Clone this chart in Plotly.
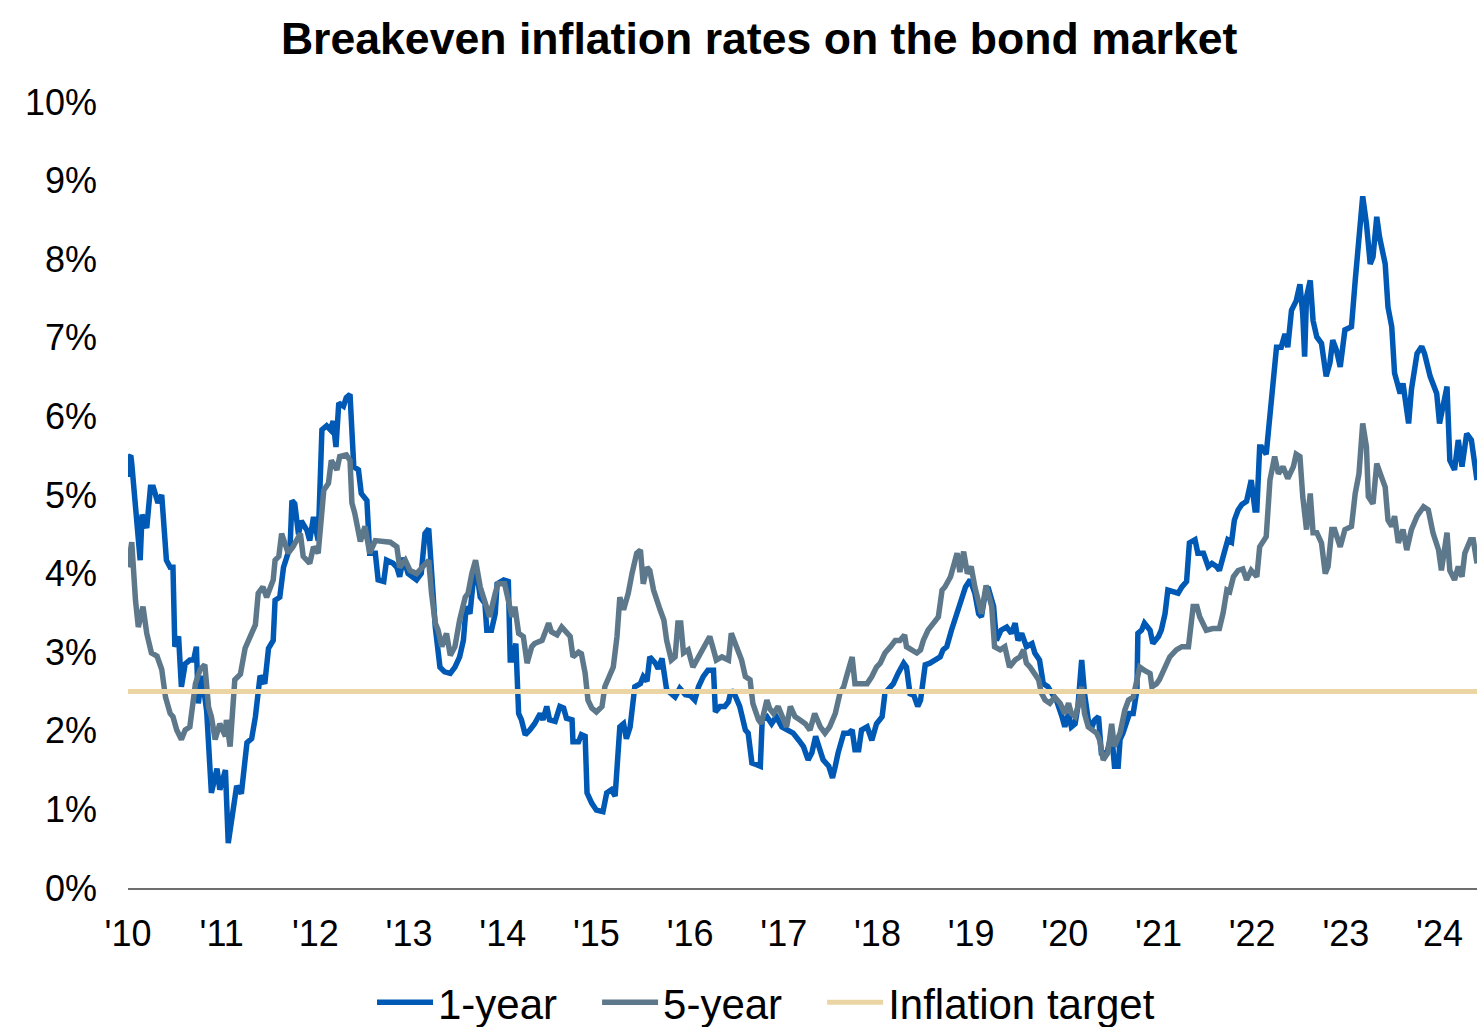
import plotly.graph_objects as go

# Breakeven inflation rates, decimal year vs. percent
one_year = [
    (2010.00, 5.23), (2010.01, 5.48), (2010.03, 5.50), (2010.04, 5.40), (2010.13, 4.17), (2010.15, 4.75),
    (2010.20, 4.58), (2010.24, 5.10), (2010.27, 5.10), (2010.32, 4.90), (2010.36, 5.00), (2010.41, 4.17),
    (2010.45, 4.08), (2010.48, 4.08), (2010.50, 3.07), (2010.54, 3.20), (2010.57, 2.56), (2010.61, 2.85),
    (2010.66, 2.90), (2010.70, 2.90), (2010.73, 3.07), (2010.75, 2.35), (2010.79, 2.70), (2010.84, 2.25),
    (2010.89, 1.21), (2010.95, 1.52), (2010.98, 1.25), (2011.04, 1.50), (2011.07, 0.57), (2011.11, 0.87),
    (2011.16, 1.30), (2011.21, 1.20), (2011.27, 1.85), (2011.32, 1.90), (2011.36, 2.18), (2011.41, 2.70),
    (2011.46, 2.60), (2011.50, 3.05), (2011.55, 3.15), (2011.57, 3.66), (2011.62, 3.70), (2011.66, 4.08),
    (2011.69, 4.20), (2011.73, 4.34), (2011.75, 4.93), (2011.78, 4.89), (2011.82, 4.50), (2011.85, 4.67),
    (2011.91, 4.55), (2011.94, 4.42), (2011.98, 4.72), (2012.03, 4.42), (2012.07, 5.83), (2012.12, 5.88),
    (2012.16, 5.83), (2012.19, 5.94), (2012.22, 5.61), (2012.25, 6.17), (2012.30, 6.13), (2012.33, 6.24),
    (2012.37, 6.28), (2012.41, 5.36), (2012.46, 5.32), (2012.49, 5.02), (2012.55, 4.93), (2012.58, 4.26),
    (2012.64, 4.26), (2012.67, 3.92), (2012.73, 3.90), (2012.76, 4.17), (2012.83, 4.13), (2012.87, 4.08),
    (2012.90, 3.96), (2012.94, 4.20), (2012.99, 4.00), (2013.08, 3.92), (2013.13, 4.00), (2013.17, 4.51),
    (2013.21, 4.57), (2013.24, 3.96), (2013.28, 3.32), (2013.33, 2.81), (2013.38, 2.75), (2013.44, 2.73),
    (2013.49, 2.81), (2013.54, 2.94), (2013.58, 3.15), (2013.61, 3.58), (2013.65, 3.49), (2013.69, 3.96),
    (2013.72, 4.04), (2013.76, 3.70), (2013.81, 3.62), (2013.83, 3.28), (2013.88, 3.28), (2013.92, 3.49),
    (2013.94, 3.87), (2014.01, 3.92), (2014.06, 3.90), (2014.08, 2.90), (2014.11, 2.90), (2014.14, 3.11),
    (2014.17, 2.22), (2014.20, 2.14), (2014.24, 1.95), (2014.29, 2.01), (2014.34, 2.09), (2014.40, 2.22),
    (2014.43, 2.14), (2014.47, 2.31), (2014.50, 2.14), (2014.56, 2.12), (2014.61, 2.31), (2014.65, 2.29),
    (2014.68, 2.16), (2014.74, 2.14), (2014.75, 1.86), (2014.81, 1.86), (2014.84, 1.95), (2014.88, 1.93),
    (2014.90, 1.21), (2014.95, 1.08), (2015.00, 0.99), (2015.07, 0.97), (2015.11, 1.21), (2015.16, 1.25),
    (2015.20, 1.17), (2015.25, 2.05), (2015.29, 2.09), (2015.32, 1.90), (2015.36, 2.05), (2015.41, 2.56),
    (2015.47, 2.60), (2015.50, 2.69), (2015.54, 2.63), (2015.57, 2.94), (2015.63, 2.86), (2015.66, 2.79),
    (2015.70, 2.92), (2015.75, 2.52), (2015.84, 2.43), (2015.89, 2.54), (2015.95, 2.46), (2016.00, 2.45),
    (2016.05, 2.39), (2016.09, 2.56), (2016.14, 2.69), (2016.19, 2.77), (2016.25, 2.77), (2016.27, 2.24),
    (2016.32, 2.31), (2016.37, 2.31), (2016.41, 2.37), (2016.44, 2.52), (2016.48, 2.45), (2016.53, 2.31),
    (2016.59, 2.01), (2016.62, 1.97), (2016.66, 1.59), (2016.71, 1.57), (2016.75, 1.55), (2016.77, 2.14),
    (2016.82, 2.18), (2016.87, 2.09), (2016.92, 2.18), (2016.98, 2.05), (2017.03, 2.01), (2017.10, 1.97),
    (2017.16, 1.88), (2017.21, 1.80), (2017.26, 1.63), (2017.30, 1.72), (2017.34, 1.93), (2017.39, 1.72),
    (2017.42, 1.63), (2017.48, 1.55), (2017.52, 1.40), (2017.55, 1.55), (2017.58, 1.72), (2017.64, 1.97),
    (2017.69, 1.97), (2017.73, 2.01), (2017.76, 1.76), (2017.80, 1.76), (2017.83, 2.01), (2017.89, 2.05),
    (2017.94, 1.88), (2017.99, 2.09), (2018.05, 2.18), (2018.08, 2.48), (2018.14, 2.56), (2018.17, 2.60),
    (2018.22, 2.73), (2018.28, 2.86), (2018.31, 2.81), (2018.35, 2.45), (2018.38, 2.48), (2018.43, 2.31),
    (2018.46, 2.39), (2018.51, 2.84), (2018.56, 2.86), (2018.62, 2.90), (2018.67, 2.94), (2018.70, 3.03),
    (2018.74, 3.07), (2018.79, 3.28), (2018.85, 3.50), (2018.90, 3.65), (2018.94, 3.83), (2018.99, 3.92),
    (2019.04, 3.75), (2019.08, 3.49), (2019.11, 3.45), (2019.15, 3.75), (2019.18, 3.83), (2019.24, 3.58),
    (2019.27, 3.15), (2019.32, 3.28), (2019.38, 3.32), (2019.43, 3.24), (2019.47, 3.37), (2019.50, 3.15),
    (2019.54, 3.24), (2019.59, 3.07), (2019.65, 3.11), (2019.68, 2.99), (2019.73, 2.90), (2019.77, 2.60),
    (2019.82, 2.56), (2019.86, 2.48), (2019.91, 2.39), (2019.97, 2.18), (2020.00, 2.05), (2020.04, 2.22),
    (2020.07, 2.05), (2020.11, 2.09), (2020.14, 2.31), (2020.18, 2.90), (2020.21, 2.48), (2020.25, 2.14),
    (2020.29, 2.05), (2020.32, 2.14), (2020.36, 2.18), (2020.39, 1.72), (2020.45, 1.72), (2020.50, 1.97),
    (2020.53, 1.55), (2020.57, 1.55), (2020.59, 1.89), (2020.62, 1.97), (2020.66, 2.14), (2020.69, 2.22),
    (2020.73, 2.22), (2020.77, 2.52), (2020.78, 3.24), (2020.82, 3.28), (2020.85, 3.37), (2020.91, 3.28),
    (2020.94, 3.11), (2021.00, 3.20), (2021.03, 3.28), (2021.07, 3.49), (2021.10, 3.79), (2021.16, 3.77),
    (2021.21, 3.75), (2021.25, 3.83), (2021.30, 3.90), (2021.33, 4.39), (2021.39, 4.43), (2021.42, 4.26),
    (2021.48, 4.26), (2021.53, 4.09), (2021.57, 4.13), (2021.62, 4.09), (2021.65, 4.04), (2021.70, 4.26),
    (2021.74, 4.43), (2021.78, 4.40), (2021.81, 4.68), (2021.85, 4.81), (2021.89, 4.88), (2021.94, 4.92),
    (2021.99, 5.19), (2022.03, 4.81), (2022.05, 4.81), (2022.08, 5.61), (2022.10, 5.61), (2022.15, 5.52),
    (2022.19, 6.04), (2022.22, 6.46), (2022.26, 6.88), (2022.31, 6.88), (2022.35, 7.05), (2022.38, 6.88),
    (2022.42, 7.35), (2022.47, 7.47), (2022.51, 7.68), (2022.54, 7.30), (2022.56, 6.76), (2022.58, 7.52),
    (2022.62, 7.73), (2022.65, 7.22), (2022.69, 7.01), (2022.74, 6.93), (2022.79, 6.51), (2022.83, 6.68),
    (2022.86, 6.97), (2022.90, 6.84), (2022.94, 6.63), (2022.99, 7.10), (2023.06, 7.14), (2023.10, 7.73),
    (2023.13, 8.07), (2023.16, 8.49), (2023.18, 8.80), (2023.22, 8.45), (2023.26, 7.94), (2023.29, 8.03),
    (2023.33, 8.54), (2023.36, 8.28), (2023.42, 7.94), (2023.45, 7.39), (2023.49, 7.14), (2023.52, 6.55),
    (2023.58, 6.29), (2023.61, 6.42), (2023.67, 5.91), (2023.70, 6.34), (2023.76, 6.80), (2023.81, 6.89),
    (2023.84, 6.80), (2023.90, 6.51), (2023.97, 6.29), (2024.00, 5.91), (2024.08, 6.38), (2024.11, 5.44),
    (2024.16, 5.32), (2024.20, 5.70), (2024.24, 5.36), (2024.29, 5.78), (2024.34, 5.70), (2024.40, 5.19),
]

five_year = [
    (2010.00, 4.08), (2010.04, 4.40), (2010.08, 3.66), (2010.11, 3.32), (2010.16, 3.58), (2010.20, 3.24),
    (2010.25, 2.99), (2010.31, 2.95), (2010.36, 2.78), (2010.40, 2.43), (2010.45, 2.22), (2010.48, 2.18),
    (2010.52, 2.01), (2010.57, 1.89), (2010.61, 2.01), (2010.66, 2.05), (2010.72, 2.60), (2010.77, 2.78),
    (2010.82, 2.84), (2010.86, 2.30), (2010.89, 2.18), (2010.93, 1.89), (2010.98, 2.09), (2011.04, 1.93),
    (2011.05, 2.14), (2011.09, 1.80), (2011.14, 2.65), (2011.20, 2.72), (2011.25, 3.05), (2011.30, 3.18),
    (2011.36, 3.35), (2011.39, 3.75), (2011.44, 3.83), (2011.48, 3.70), (2011.55, 3.92), (2011.57, 4.17),
    (2011.61, 4.22), (2011.64, 4.51), (2011.68, 4.38), (2011.71, 4.26), (2011.76, 4.34), (2011.84, 4.51),
    (2011.87, 4.22), (2011.94, 4.13), (2011.98, 4.34), (2012.03, 4.26), (2012.09, 5.06), (2012.14, 5.15),
    (2012.17, 5.44), (2012.23, 5.32), (2012.26, 5.49), (2012.33, 5.51), (2012.37, 5.44), (2012.39, 4.90),
    (2012.42, 4.77), (2012.48, 4.41), (2012.53, 4.60), (2012.58, 4.26), (2012.64, 4.42), (2012.73, 4.41),
    (2012.80, 4.40), (2012.87, 4.34), (2012.90, 4.08), (2012.96, 4.17), (2013.01, 4.04), (2013.08, 4.00),
    (2013.15, 4.08), (2013.21, 4.17), (2013.24, 3.75), (2013.28, 3.37), (2013.31, 3.28), (2013.35, 3.07),
    (2013.40, 3.24), (2013.44, 2.96), (2013.49, 3.07), (2013.54, 3.41), (2013.60, 3.70), (2013.63, 3.75),
    (2013.67, 4.00), (2013.71, 4.17), (2013.76, 3.83), (2013.81, 3.66), (2013.86, 3.45), (2013.92, 3.75),
    (2013.95, 3.87), (2014.02, 3.87), (2014.06, 3.66), (2014.10, 3.45), (2014.13, 3.58), (2014.17, 3.24),
    (2014.22, 3.20), (2014.26, 2.86), (2014.31, 3.07), (2014.34, 3.11), (2014.42, 3.15), (2014.45, 3.24),
    (2014.49, 3.37), (2014.52, 3.26), (2014.58, 3.22), (2014.63, 3.32), (2014.68, 3.24), (2014.72, 3.20),
    (2014.75, 2.94), (2014.81, 3.00), (2014.84, 2.98), (2014.88, 2.73), (2014.91, 2.39), (2014.95, 2.29),
    (2015.00, 2.24), (2015.06, 2.31), (2015.09, 2.56), (2015.15, 2.73), (2015.18, 2.81), (2015.22, 3.20),
    (2015.25, 3.70), (2015.29, 3.54), (2015.34, 3.75), (2015.38, 4.00), (2015.43, 4.26), (2015.47, 4.30),
    (2015.50, 3.87), (2015.54, 4.08), (2015.57, 4.04), (2015.61, 3.79), (2015.64, 3.66), (2015.68, 3.54),
    (2015.72, 3.41), (2015.75, 3.15), (2015.80, 2.90), (2015.84, 2.94), (2015.87, 3.37), (2015.90, 3.37),
    (2015.93, 2.99), (2015.98, 3.03), (2016.03, 2.81), (2016.11, 2.99), (2016.16, 3.11), (2016.21, 3.20),
    (2016.25, 3.03), (2016.28, 2.90), (2016.34, 2.94), (2016.41, 2.90), (2016.44, 3.24), (2016.50, 3.07),
    (2016.55, 2.90), (2016.59, 2.69), (2016.64, 2.65), (2016.67, 2.35), (2016.73, 2.14), (2016.76, 2.09),
    (2016.82, 2.39), (2016.85, 2.28), (2016.89, 2.22), (2016.94, 2.31), (2016.98, 2.18), (2017.03, 2.05),
    (2017.07, 2.31), (2017.12, 2.18), (2017.17, 2.14), (2017.23, 2.09), (2017.28, 2.01), (2017.33, 2.22),
    (2017.39, 2.05), (2017.44, 1.97), (2017.49, 2.05), (2017.55, 2.22), (2017.60, 2.48), (2017.64, 2.56),
    (2017.67, 2.69), (2017.73, 2.94), (2017.76, 2.60), (2017.81, 2.60), (2017.89, 2.60), (2017.94, 2.69),
    (2017.99, 2.81), (2018.03, 2.86), (2018.08, 2.99), (2018.14, 3.07), (2018.19, 3.15), (2018.24, 3.15),
    (2018.29, 3.22), (2018.31, 3.07), (2018.37, 3.03), (2018.42, 2.99), (2018.46, 3.03), (2018.49, 3.15),
    (2018.54, 3.28), (2018.60, 3.37), (2018.65, 3.45), (2018.69, 3.79), (2018.72, 3.83), (2018.78, 3.96),
    (2018.81, 4.08), (2018.85, 4.26), (2018.88, 4.02), (2018.92, 4.28), (2018.96, 4.00), (2019.00, 4.09),
    (2019.04, 3.83), (2019.08, 3.66), (2019.11, 3.49), (2019.16, 3.85), (2019.22, 3.58), (2019.25, 3.07),
    (2019.31, 3.03), (2019.36, 3.07), (2019.41, 2.81), (2019.47, 2.90), (2019.52, 2.94), (2019.56, 3.03),
    (2019.59, 2.86), (2019.63, 2.81), (2019.68, 2.73), (2019.72, 2.65), (2019.75, 2.48), (2019.79, 2.39),
    (2019.84, 2.35), (2019.89, 2.43), (2019.95, 2.35), (2020.00, 2.22), (2020.04, 2.35), (2020.07, 2.22),
    (2020.11, 2.18), (2020.14, 2.31), (2020.18, 2.56), (2020.21, 2.22), (2020.25, 2.05), (2020.30, 2.01),
    (2020.34, 1.97), (2020.37, 1.89), (2020.41, 1.63), (2020.46, 1.72), (2020.50, 2.09), (2020.53, 1.80),
    (2020.59, 1.97), (2020.64, 2.26), (2020.68, 2.39), (2020.73, 2.43), (2020.77, 2.65), (2020.80, 2.81),
    (2020.85, 2.77), (2020.91, 2.73), (2020.93, 2.56), (2020.98, 2.60), (2021.01, 2.65), (2021.07, 2.81),
    (2021.12, 2.94), (2021.19, 3.03), (2021.25, 3.07), (2021.32, 3.07), (2021.37, 3.58), (2021.41, 3.58),
    (2021.44, 3.45), (2021.51, 3.28), (2021.58, 3.30), (2021.65, 3.30), (2021.69, 3.50), (2021.73, 3.79),
    (2021.76, 3.77), (2021.80, 3.96), (2021.85, 4.04), (2021.90, 4.06), (2021.94, 3.92), (2021.99, 4.04),
    (2022.05, 3.96), (2022.08, 4.34), (2022.12, 4.40), (2022.15, 4.47), (2022.19, 5.19), (2022.24, 5.49),
    (2022.28, 5.27), (2022.33, 5.36), (2022.38, 5.21), (2022.44, 5.36), (2022.47, 5.52), (2022.51, 5.49),
    (2022.54, 4.98), (2022.58, 4.56), (2022.62, 5.02), (2022.65, 4.52), (2022.69, 4.52), (2022.74, 4.39),
    (2022.78, 4.00), (2022.81, 4.09), (2022.85, 4.56), (2022.88, 4.56), (2022.94, 4.34), (2022.99, 4.56),
    (2023.06, 4.60), (2023.10, 5.02), (2023.14, 5.27), (2023.18, 5.91), (2023.22, 5.61), (2023.24, 4.98),
    (2023.29, 4.89), (2023.33, 5.40), (2023.38, 5.23), (2023.42, 5.10), (2023.45, 4.68), (2023.49, 4.60),
    (2023.52, 4.73), (2023.56, 4.39), (2023.61, 4.56), (2023.65, 4.30), (2023.70, 4.56), (2023.76, 4.73),
    (2023.83, 4.85), (2023.88, 4.81), (2023.93, 4.52), (2023.99, 4.30), (2024.02, 4.04), (2024.08, 4.52),
    (2024.11, 4.04), (2024.16, 3.92), (2024.20, 4.09), (2024.24, 3.96), (2024.27, 4.26), (2024.33, 4.43),
    (2024.36, 4.43), (2024.40, 4.13),
]

inflation_target = 2.5
x_start, x_end = 2010.0, 2024.4

year_ticks = list(range(2010, 2025))
year_labels = ["'" + str(y)[2:] for y in year_ticks]
pct_ticks = list(range(0, 11))
pct_labels = [f"{v}%" for v in pct_ticks]

FONT = "Liberation Sans, Arial, Helvetica, sans-serif"
BLUE = "#0059B4"
SLATE = "#5E788B"
BEIGE = "#EBD5A5"
GAP = "\u00a0" * 3  # extra room between legend entries

fig = go.Figure()

fig.add_trace(go.Scatter(
    x=[p[0] for p in one_year], y=[p[1] for p in one_year],
    mode="lines", name="1-year" + GAP,
    line=dict(color=BLUE, width=5.5),
))
fig.add_trace(go.Scatter(
    x=[p[0] for p in five_year], y=[p[1] for p in five_year],
    mode="lines", name="5-year" + GAP,
    line=dict(color=SLATE, width=5.5),
))
fig.add_trace(go.Scatter(
    x=[x_start, x_end], y=[inflation_target, inflation_target],
    mode="lines", name="Inflation target",
    line=dict(color=BEIGE, width=5),
))

fig.update_layout(
    width=1477, height=1027,
    margin=dict(l=128, r=0, t=102, b=139, autoexpand=False),
    paper_bgcolor="white", plot_bgcolor="white",
    font=dict(family=FONT, color="#000000"),
    title=dict(
        text="<b>Breakeven inflation rates on the bond market</b>",
        font=dict(family=FONT, size=44.6, color="#000000"),
        xref="container", x=0.514, xanchor="center",
        yref="container", y=0.963, yanchor="middle",
    ),
    showlegend=True,
    legend=dict(
        orientation="h",
        xref="container", x=372 / 1477, xanchor="left",
        yref="container", y=0.024, yanchor="middle",
        font=dict(family=FONT, size=42, color="#000000"),
        itemwidth=56,
        tracegroupgap=0,
        bgcolor="rgba(0,0,0,0)",
    ),
    hovermode=False,
)

fig.update_xaxes(
    range=[x_start, x_end],
    tickmode="array", tickvals=year_ticks, ticktext=year_labels,
    showgrid=False, zeroline=False,
    showline=True, linecolor="#6E6E6E", linewidth=1.5,
    ticks="", ticklabelstandoff=13, automargin=False,
    tickfont=dict(family=FONT, size=36, color="#000000"),
)
fig.update_yaxes(
    range=[0, 10],
    tickmode="array", tickvals=pct_ticks, ticktext=pct_labels,
    showgrid=False, zeroline=False, showline=False,
    ticks="", ticklabelstandoff=30, automargin=False,
    tickfont=dict(family=FONT, size=36, color="#000000"),
)

fig.write_html("out.html")
